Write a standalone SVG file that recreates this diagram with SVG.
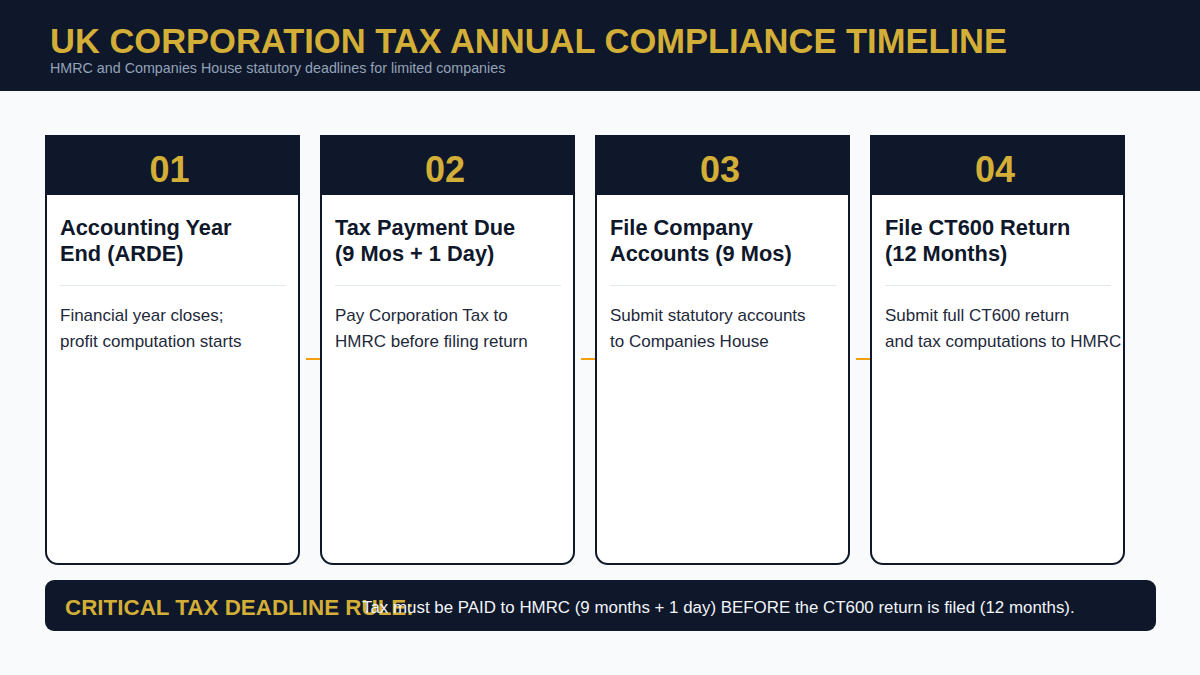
<svg xmlns="http://www.w3.org/2000/svg" width="1200" height="675" viewBox="0 0 1200 675">
<style>
.title{font-family:"Liberation Sans",Arial,sans-serif;font-weight:bold;font-size:34.5px;fill:#d4af37}
.sub{font-family:"Liberation Sans",Arial,sans-serif;font-size:14.3px;fill:#94a3b8}
.num{font-family:"Liberation Sans",Arial,sans-serif;font-weight:bold;font-size:36px;fill:#d4af37;text-anchor:middle}
.ct{font-family:"Liberation Sans",Arial,sans-serif;font-weight:bold;font-size:21.8px;fill:#0f172a}
.cb{font-family:"Liberation Sans",Arial,sans-serif;font-size:17px;fill:#1e293b}
.card{fill:#ffffff;stroke:#0f172a;stroke-width:2}
.hd{fill:#0f172a}
.div{stroke:#e2e8f0;stroke-width:1}
.conn{stroke:#f59e0b;stroke-width:2}
.rl{font-family:"Liberation Sans",Arial,sans-serif;font-weight:bold;font-size:22.4px;fill:#d4af37}
.rt{font-family:"Liberation Sans",Arial,sans-serif;font-size:16.9px;fill:#f1f5f9}
</style>
<rect width="1200" height="675" fill="#f8fafc"/>
<rect width="1200" height="91" fill="#0f172a"/>
<text class="title" x="50" y="53">UK CORPORATION TAX ANNUAL COMPLIANCE TIMELINE</text>
<text class="sub" x="50" y="73">HMRC and Companies House statutory deadlines for limited companies</text>
<g id="connectors">
<line class="conn" x1="306" y1="359" x2="320" y2="359"/>
<line class="conn" x1="581" y1="359" x2="595" y2="359"/>
<line class="conn" x1="856" y1="359" x2="870" y2="359"/>
</g>
<g id="node1">
<path class="card" d="M46 136 H299 V552 A12 12 0 0 1 287 564 H58 A12 12 0 0 1 46 552 Z"/>
<rect class="hd" x="45" y="135" width="255" height="60"/>
<text class="num" x="169.5" y="182">01</text>
<text class="ct" x="60" y="235">Accounting Year</text>
<text class="ct" x="60" y="261">End (ARDE)</text>
<line class="div" x1="60" y1="285.5" x2="286" y2="285.5"/>
<text class="cb" x="60" y="321">Financial year closes;</text>
<text class="cb" x="60" y="347">profit computation starts</text>
</g>
<g id="node2">
<path class="card" d="M321 136 H574 V552 A12 12 0 0 1 562 564 H333 A12 12 0 0 1 321 552 Z"/>
<rect class="hd" x="320" y="135" width="255" height="60"/>
<text class="num" x="445" y="182">02</text>
<text class="ct" x="335" y="235">Tax Payment Due</text>
<text class="ct" x="335" y="261">(9 Mos + 1 Day)</text>
<line class="div" x1="335" y1="285.5" x2="561" y2="285.5"/>
<text class="cb" x="335" y="321">Pay Corporation Tax to</text>
<text class="cb" x="335" y="347">HMRC before filing return</text>
</g>
<g id="node3">
<path class="card" d="M596 136 H849 V552 A12 12 0 0 1 837 564 H608 A12 12 0 0 1 596 552 Z"/>
<rect class="hd" x="595" y="135" width="255" height="60"/>
<text class="num" x="720" y="182">03</text>
<text class="ct" x="610" y="235">File Company</text>
<text class="ct" x="610" y="261">Accounts (9 Mos)</text>
<line class="div" x1="610" y1="285.5" x2="836" y2="285.5"/>
<text class="cb" x="610" y="321">Submit statutory accounts</text>
<text class="cb" x="610" y="347">to Companies House</text>
</g>
<g id="node4">
<path class="card" d="M871 136 H1124 V552 A12 12 0 0 1 1112 564 H883 A12 12 0 0 1 871 552 Z"/>
<rect class="hd" x="870" y="135" width="255" height="60"/>
<text class="num" x="995" y="182">04</text>
<text class="ct" x="885" y="235">File CT600 Return</text>
<text class="ct" x="885" y="261">(12 Months)</text>
<line class="div" x1="885" y1="285.5" x2="1111" y2="285.5"/>
<text class="cb" x="885" y="321">Submit full CT600 return</text>
<text class="cb" x="885" y="347">and tax computations to HMRC</text>
</g>
<g id="rule">
<rect x="45" y="580" width="1111" height="51" rx="9" fill="#0f172a"/>
<text class="rl" x="65" y="615">CRITICAL TAX DEADLINE RULE:</text>
<text class="rt" x="362" y="613">Tax must be PAID to HMRC (9 months + 1 day) BEFORE the CT600 return is filed (12 months).</text>
</g>
</svg>
